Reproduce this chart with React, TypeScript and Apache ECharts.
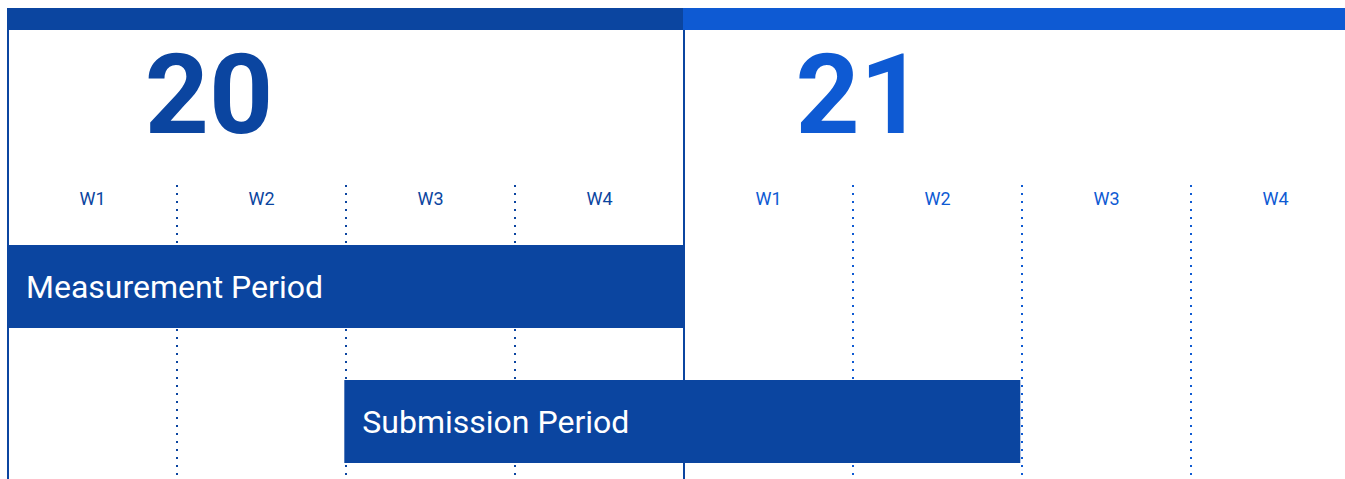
import React, { useEffect, useRef } from "react";
import * as echarts from "echarts";

// ---- data ----
const years = ["20", "21"];
const yearStart = [0, 4];
const yearEnd = [4, 8];
const yearLabelAt = [1.19, 5.04];

const weeks = ["W1", "W2", "W3", "W4", "W1", "W2", "W3", "W4"];
const weekYear = [0, 0, 0, 0, 1, 1, 1, 1];

const tasks = ["Measurement Period", "Submission Period"];
const taskStart = [0, 1.99];
const taskEnd = [4, 5.99];

// ---- styles / layout ----
const DARK = "#0b45a0";
const BRIGHT = "#0e5ad3";
const yearColors = [DARK, BRIGHT];
const FONT = "Roboto";
const TOP_BAR_Y = 8;
const TOP_BAR_H = 22;
const YEAR_Y = 94;
const WEEK_Y = 198.5;
const DOT_TOP = 185;
const PAGE_BOTTOM = 489;

export default function App() {
  const ref = useRef<HTMLDivElement>(null);

  useEffect(() => {
    if (!ref.current) return;
    const chart = echarts.init(ref.current, undefined, { renderer: "svg" });

    const option: any = {
      animation: false,
      backgroundColor: "#ffffff",
      grid: { left: 8, right: 0, top: 219, bottom: 0 },
      xAxis: { type: "value", min: 0, max: 8, show: false },
      yAxis: { type: "category", data: tasks, inverse: true, show: false },
      series: [
        {
          type: "custom",
          name: "weeks",
          clip: false,
          silent: true,
          data: weeks.map((w, i) => [i, i + 1, weekYear[i]]),
          renderItem: (params: any, api: any) => {
            const idx = params.dataIndex;
            const x0 = api.coord([api.value(0), 0])[0];
            const x1 = api.coord([api.value(1), 0])[0];
            const color = yearColors[api.value(2)];
            const children: any[] = [
              {
                type: "text",
                x: (x0 + x1) / 2,
                y: WEEK_Y,
                style: {
                  text: weeks[idx],
                  fill: color,
                  fontFamily: FONT,
                  fontSize: 18,
                  align: "center",
                  verticalAlign: "middle",
                },
              },
            ];
            if ((idx + 1) % 4 !== 0) {
              children.push({
                type: "line",
                shape: { x1: x1, y1: DOT_TOP, x2: x1, y2: PAGE_BOTTOM },
                style: { stroke: color, lineWidth: 2, lineDash: [2, 6] },
              });
            }
            if (idx % 4 === 0) {
              children.push({
                type: "line",
                z2: 5,
                shape: { x1: x0, y1: TOP_BAR_Y + TOP_BAR_H, x2: x0, y2: PAGE_BOTTOM },
                style: { stroke: DARK, lineWidth: 2 },
              });
            }
            return { type: "group", children };
          },
        },
        {
          type: "custom",
          name: "years",
          clip: false,
          silent: true,
          data: years.map((y, i) => [yearStart[i], yearEnd[i], yearLabelAt[i]]),
          renderItem: (params: any, api: any) => {
            const idx = params.dataIndex;
            const x0 = api.coord([api.value(0), 0])[0];
            const x1 = api.coord([api.value(1), 0])[0];
            const xl = api.coord([api.value(2), 0])[0];
            const color = yearColors[idx];
            return {
              type: "group",
              children: [
                {
                  type: "rect",
                  shape: { x: x0 - 1, y: TOP_BAR_Y, width: x1 - x0 + 1, height: TOP_BAR_H },
                  style: { fill: color },
                },
                {
                  type: "text",
                  x: xl,
                  y: YEAR_Y,
                  style: {
                    text: years[idx],
                    fill: color,
                    fontFamily: FONT,
                    fontWeight: "bold",
                    fontSize: 112,
                    align: "center",
                    verticalAlign: "middle",
                  },
                },
              ],
            };
          },
        },
        {
          type: "custom",
          name: "tasks",
          clip: false,
          silent: true,
          z: 3,
          data: tasks.map((t, i) => [taskStart[i], taskEnd[i], i]),
          renderItem: (params: any, api: any) => {
            const idx = params.dataIndex;
            const x0 = api.coord([api.value(0), idx])[0];
            const x1 = api.coord([api.value(1), idx])[0];
            const yc = api.coord([0, idx])[1];
            const h = api.size([0, 1])[1] * 0.615;
            return {
              type: "group",
              children: [
                {
                  type: "rect",
                  shape: { x: x0 - (idx === 0 ? 1 : 0), y: yc - h / 2, width: x1 - x0 + (idx === 0 ? 1 : 0), height: h },
                  style: { fill: DARK },
                },
                {
                  type: "text",
                  x: x0 + 18,
                  y: yc,
                  style: {
                    text: tasks[idx],
                    fill: "#ffffff",
                    fontFamily: FONT,
                    fontSize: 32,
                    align: "left",
                    verticalAlign: "middle",
                  },
                },
              ],
            };
          },
        },
      ],
    };

    chart.setOption(option);
    return () => chart.dispose();
  }, []);

  return (
    <div style={{ position: "absolute", left: 0, top: 0, width: 1345, height: 479, overflow: "hidden", background: "#fff" }}>
      <div ref={ref} style={{ width: 1360, height: 489 }} />
    </div>
  );
}
